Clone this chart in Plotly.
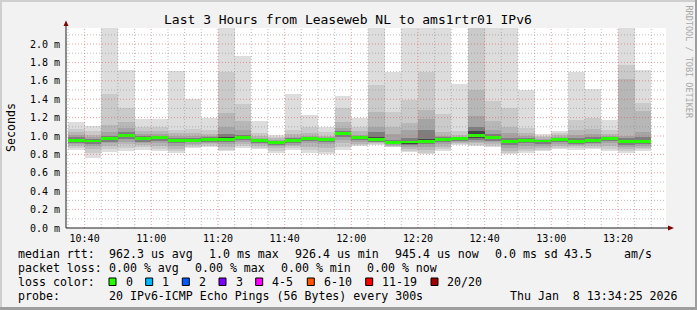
import plotly.graph_objects as go
import pandas as pd

TITLE = "Last 3 Hours from Leaseweb NL to ams1rtr01 IPv6"
SLOT_START = "2026-01-08 10:35"
N_SLOTS = 35
VIEW_START = "2026-01-08 10:34:25"
VIEW_END = "2026-01-08 13:34:25"

# median rtt per 5-minute slot (ms)
median = [0.952, 0.945, 0.970, 1.007, 0.970, 0.985, 0.950, 0.950, 0.965, 0.964,
          0.985, 0.950, 0.930, 0.950, 0.974, 0.964, 1.029, 0.987, 0.962, 0.932,
          0.935, 0.938, 0.966, 0.970, 1.007, 0.980, 0.938, 0.950, 0.946, 0.962,
          0.938, 0.952, 0.974, 0.938, 0.938]
# smoke layers (outer -> inner), upper edges
hi1 = [1.15, 1.11, 2.30, 1.72, 1.18, 1.18, 1.71, 1.40, 1.20, 2.30,
       1.866, 1.166, 1.01, 1.46, 1.225, 1.10, 1.44, 1.20, 2.30, 1.70,
       2.30, 2.30, 2.30, 1.565, 2.30, 2.30, 2.30, 1.496, 1.02, 1.058,
       1.70, 1.514, 1.177, 2.30, 1.72]
hi2 = [1.08, 1.05, 1.46, 1.30, 1.10, 1.10, 1.07, 1.08, 1.06, 1.70,
       1.35, 1.03, 0.99, 1.06, 1.10, 1.04, 1.30, 1.10, 1.555, 1.256,
       1.387, 1.695, 1.24, 1.05, 2.30, 1.377, 1.30, 1.09, 1.00, 1.03,
       1.17, 1.20, 1.06, 1.767, 1.36]
hi3 = [1.04, 1.01, 1.12, 1.15, 1.05, 1.05, 1.03, 1.03, 1.02, 1.25,
       1.16, 1.00, 0.975, 1.02, 1.03, 1.00, 1.15, 1.05, 1.257, 1.10,
       1.14, 1.285, 1.04, 1.01, 1.496, 1.16, 1.10, 1.03, 0.985, 1.01,
       1.06, 1.08, 1.02, 1.62, 1.275]
hi4 = [1.01, 0.99, 1.04, 1.09, 1.02, 1.02, 1.00, 1.00, 0.995, 1.10,
       1.06, 0.98, 0.96, 0.99, 1.00, 0.985, 1.09, 1.01, 1.10, 1.02,
       1.06, 1.19, 1.00, 0.99, 1.22, 1.07, 1.03, 1.00, 0.97, 0.99,
       1.01, 1.02, 1.00, 1.00, 1.04]
hi5 = [0.985, 0.97, 1.00, 1.04, 0.995, 1.005, 0.975, 0.975, 0.985, 1.02,
       1.01, 0.97, 0.95, 0.975, 0.99, 0.98, 1.05, 1.00, 1.04, 0.96,
       0.98, 1.06, 0.985, 0.985, 1.10, 1.02, 0.98, 0.98, 0.96, 0.98,
       0.975, 0.985, 0.99, 0.975, 0.99]
hi6 = [0.97, 0.96, 0.99, 1.025, 0.985, 0.995, 0.965, 0.965, 0.975, 0.985,
       1.00, 0.96, 0.94, 0.965, 0.985, 0.975, 1.04, 0.995, 0.985, 0.945,
       0.95, 0.965, 0.975, 0.98, 1.05, 1.00, 0.96, 0.965, 0.955, 0.972,
       0.955, 0.968, 0.985, 0.96, 0.96]
# lower edges
lo6 = [0.94, 0.93, 0.955, 0.99, 0.955, 0.97, 0.935, 0.94, 0.95, 0.95,
       0.97, 0.94, 0.92, 0.935, 0.96, 0.95, 1.01, 0.97, 0.95, 0.92,
       0.915, 0.925, 0.95, 0.96, 0.98, 0.965, 0.92, 0.935, 0.93, 0.95,
       0.925, 0.94, 0.96, 0.92, 0.925]
lo5 = [0.925, 0.915, 0.94, 0.97, 0.94, 0.95, 0.92, 0.93, 0.94, 0.935,
       0.955, 0.925, 0.905, 0.92, 0.945, 0.935, 0.99, 0.955, 0.94, 0.91,
       0.90, 0.91, 0.935, 0.95, 0.96, 0.95, 0.90, 0.92, 0.915, 0.935,
       0.915, 0.925, 0.945, 0.90, 0.91]
lo4 = [0.91, 0.89, 0.92, 0.94, 0.92, 0.92, 0.89, 0.915, 0.925, 0.91,
       0.94, 0.91, 0.89, 0.905, 0.92, 0.91, 0.96, 0.935, 0.93, 0.90,
       0.88, 0.88, 0.91, 0.935, 0.94, 0.93, 0.87, 0.89, 0.89, 0.91,
       0.90, 0.91, 0.92, 0.88, 0.89]
lo3 = [0.89, 0.86, 0.89, 0.91, 0.90, 0.89, 0.86, 0.90, 0.91, 0.88,
       0.91, 0.89, 0.87, 0.89, 0.88, 0.87, 0.92, 0.915, 0.92, 0.89,
       0.86, 0.85, 0.88, 0.92, 0.92, 0.91, 0.84, 0.86, 0.87, 0.89,
       0.89, 0.89, 0.89, 0.86, 0.87]
lo2 = [0.87, 0.81, 0.86, 0.87, 0.88, 0.86, 0.84, 0.885, 0.89, 0.85,
       0.89, 0.87, 0.84, 0.87, 0.85, 0.83, 0.88, 0.90, 0.91, 0.88,
       0.84, 0.82, 0.86, 0.91, 0.90, 0.89, 0.82, 0.84, 0.85, 0.87,
       0.87, 0.875, 0.86, 0.84, 0.855]
lo1 = [0.85, 0.76, 0.83, 0.84, 0.85, 0.84, 0.82, 0.87, 0.877, 0.833,
       0.87, 0.86, 0.82, 0.85, 0.82, 0.804, 0.85, 0.887, 0.905, 0.876,
       0.83, 0.808, 0.84, 0.906, 0.886, 0.877, 0.80, 0.82, 0.835, 0.86,
       0.85, 0.86, 0.84, 0.82, 0.84]

y_tick_vals = [0.0, 0.2, 0.4, 0.6, 0.8, 1.0, 1.2, 1.4, 1.6, 1.8, 2.0]
y_tick_text = ["0.0 m", "0.2 m", "0.4 m", "0.6 m", "0.8 m", "1.0 m",
               "1.2 m", "1.4 m", "1.6 m", "1.8 m", "2.0 m"]

legend_rtt = ["median rtt:", "962.3 us avg", "1.0 ms max", "926.4 us min",
              "945.4 us now", "0.0 ms sd", "43.5", "am/s"]
legend_loss = ["packet loss:", "0.00 % avg", "0.00 % max", "0.00 % min", "0.00 % now"]
loss_labels = ["0", "1", "2", "3", "4-5", "6-10", "11-19", "20/20"]
loss_colors = ["#26ff00", "#00b8ff", "#0059ff", "#7e00ff", "#ff00ff",
               "#ff5500", "#ff0000", "#a00000"]
probe_text = ["probe:", "20 IPv6-ICMP Echo Pings (56 Bytes) every 300s",
              "Thu Jan  8 13:34:25 2026"]

# ---------------------------------------------------------------------------
W, H = 697, 310
L, R, T, B = 66, 31, 28, 82
PW, PH = W - L - R, H - T - B
FONT = "DejaVu Sans Mono"


def px(x):
    return (x - L) / PW


def py(y):
    return (H - B - y) / PH


centers = pd.date_range(SLOT_START, periods=N_SLOTS, freq="5min") + pd.Timedelta(minutes=2.5)
slot_ms = 5 * 60 * 1000

fig = go.Figure()
layers = [(hi1, lo1, "#dddddd"), (hi2, lo2, "#cacaca"), (hi3, lo3, "#b7b7b7"),
          (hi4, lo4, "#a4a4a4"), (hi5, lo5, "#7e7e7e"), (hi6, lo6, "#454545")]
for hi, lo, col in layers:
    fig.add_trace(go.Bar(x=centers, y=[h - l for h, l in zip(hi, lo)], base=lo,
                         width=slot_ms, marker=dict(color=col, line=dict(width=0)),
                         hoverinfo="skip", showlegend=False))

band = 0.03
fig.add_trace(go.Bar(x=centers, y=[band] * N_SLOTS, base=[m - band / 2 for m in median],
                     width=slot_ms, marker=dict(color=loss_colors[0], line=dict(width=0)),
                     hoverinfo="skip", showlegend=False))

# grid drawn over the smoke (rrdtool style)
t0 = pd.Timestamp(VIEW_START)
t1 = pd.Timestamp(VIEW_END)
minor_x, minor_y, major_x, major_y = [], [], [], []
t = pd.Timestamp(SLOT_START)
while t <= t1:
    if t.minute % 20 == 0:
        major_x += [t, t, None]; major_y += [0, 2.2, None]
    else:
        minor_x += [t, t, None]; minor_y += [0, 2.2, None]
    t += pd.Timedelta(minutes=5)
for i in range(1, 22):
    v = i / 10
    if i % 2 == 0:
        major_x += [t0, t1, None]; major_y += [v, v, None]
    else:
        minor_x += [t0, t1, None]; minor_y += [v, v, None]
fig.add_trace(go.Scatter(x=minor_x, y=minor_y, mode="lines", hoverinfo="skip", showlegend=False,
                         line=dict(color="rgba(143,143,143,0.6)", width=1, dash="1px,2px")))
fig.add_trace(go.Scatter(x=major_x, y=major_y, mode="lines", hoverinfo="skip", showlegend=False,
                         line=dict(color="rgba(222,79,79,0.55)", width=1, dash="1px,2px")))

shapes = []
# frame shades
shapes.append(dict(type="rect", xref="paper", yref="paper", x0=px(0), x1=px(W), y0=py(0), y1=py(2),
                   fillcolor="#cfcfcf", line=dict(width=0), layer="below"))
shapes.append(dict(type="rect", xref="paper", yref="paper", x0=px(0), x1=px(2), y0=py(0), y1=py(H),
                   fillcolor="#cfcfcf", line=dict(width=0), layer="below"))
shapes.append(dict(type="rect", xref="paper", yref="paper", x0=px(W - 2), x1=px(W), y0=py(0), y1=py(H),
                   fillcolor="#9e9e9e", line=dict(width=0), layer="below"))
shapes.append(dict(type="rect", xref="paper", yref="paper", x0=px(0), x1=px(W), y0=py(H - 3), y1=py(H),
                   fillcolor="#9e9e9e", line=dict(width=0), layer="below"))
# axes with arrows
shapes.append(dict(type="line", xref="paper", yref="paper", x0=px(L), x1=px(669), y0=0, y1=0,
                   line=dict(color="#212121", width=1)))
shapes.append(dict(type="line", xref="paper", yref="paper", x0=0, x1=0, y0=0, y1=py(25),
                   line=dict(color="#212121", width=1)))
shapes.append(dict(type="path", xref="paper", yref="paper",
                   path=f"M {px(668)} {py(225.5)} L {px(674)} {py(228)} L {px(668)} {py(230.5)} Z",
                   fillcolor="#800000", line=dict(width=0)))
shapes.append(dict(type="path", xref="paper", yref="paper",
                   path=f"M {px(63.5)} {py(26)} L {px(66)} {py(20.5)} L {px(68.5)} {py(26)} Z",
                   fillcolor="#800000", line=dict(width=0)))

ann = []


def text(x, y, s, size=11.6, xanchor="left", angle=0, color="black"):
    ann.append(dict(x=px(x), y=py(y), xref="paper", yref="paper", text=s, showarrow=False,
                    xanchor=xanchor, yanchor="middle", textangle=angle,
                    font=dict(family=FONT, size=size, color=color)))


text(348, 19, TITLE, size=13, xanchor="center")
text(11, 128, "Seconds", xanchor="center", angle=-90)
text(688.5, 62, "RRDTOOL / TOBI OETIKER", size=8.5, xanchor="center", angle=90, color="#a8a8a8")

rtt_x = [16, 107, 207, 293, 393, 493, 562, 621.5]
for s, x in zip(legend_rtt, rtt_x):
    text(x, 254, s)
loss_x = [16, 107, 193, 279, 365]
for s, x in zip(legend_loss, loss_x):
    text(x, 268, s)
text(16, 282, "loss color:")
box_x = [109, 145.7, 182.3, 219, 255.7, 307.3, 365.7, 431]
for lab, colr, bx in zip(loss_labels, loss_colors, box_x):
    shapes.append(dict(type="rect", xref="paper", yref="paper", x0=px(bx), x1=px(bx + 7),
                       y0=py(278), y1=py(285.5), fillcolor=colr, line=dict(color="black", width=1)))
    text(bx + 14.5, 282, lab)
text(16, 296, probe_text[0])
text(107, 296, probe_text[1])
text(680, 296, probe_text[2], xanchor="right")

fig.update_layout(
    width=W, height=H, margin=dict(l=L, r=R, t=T, b=B, pad=0),
    paper_bgcolor="#f2f2f2", plot_bgcolor="white",
    barmode="overlay", bargap=0, showlegend=False,
    shapes=shapes, annotations=ann,
    xaxis=dict(type="date", range=[VIEW_START, VIEW_END], tick0="2026-01-08 10:40",
               dtick=20 * 60 * 1000, tickformat="%H:%M", showgrid=False, zeroline=False,
               showline=False, ticks="", ticklabelstandoff=3,
               tickfont=dict(family=FONT, size=10, color="black")),
    yaxis=dict(range=[0, 2.174], tickvals=y_tick_vals, ticktext=y_tick_text, showgrid=False,
               zeroline=False, showline=False, ticks="", ticklabelstandoff=5,
               tickfont=dict(family=FONT, size=10, color="black")),
)

fig.write_html("out.html")
